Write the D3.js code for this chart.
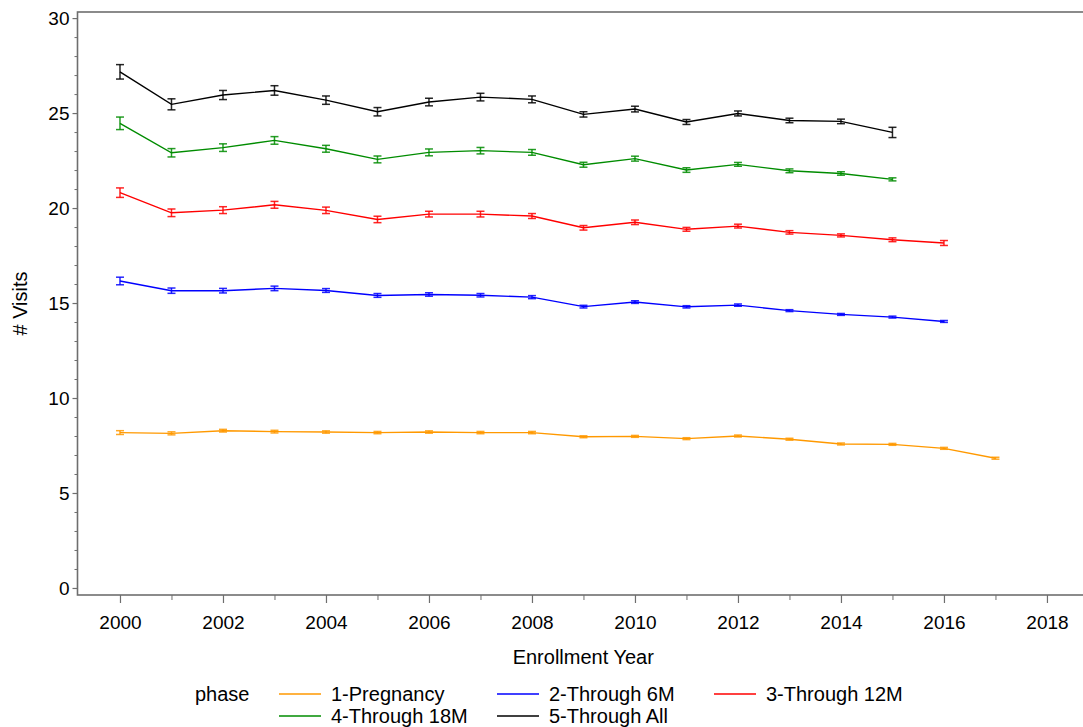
<!DOCTYPE html>
<html>
<head>
<meta charset="utf-8">
<script src="https://cdn.jsdelivr.net/npm/d3@7"></script>
<style>
  html, body { margin: 0; padding: 0; background: #fff; }
  svg { display: block; }
  text { font-family: "Liberation Sans", Arial, sans-serif; fill: #000; }
</style>
</head>
<body>
<svg id="chart" width="1083" height="727"></svg>
<script>
// Enrollment years
const years = [2000, 2001, 2002, 2003, 2004, 2005, 2006, 2007, 2008,
               2009, 2010, 2011, 2012, 2013, 2014, 2015, 2016, 2017];

// Mean number of visits per phase, by enrollment year
const pregnancy = [8.18, 8.14, 8.28, 8.23, 8.21, 8.18, 8.21, 8.18, 8.18,
                   7.96, 7.98, 7.86, 8.00, 7.83, 7.58, 7.56, 7.35, 6.83];
const through6M = [16.16, 15.65, 15.65, 15.77, 15.66, 15.40, 15.45, 15.41, 15.31,
                   14.81, 15.05, 14.80, 14.89, 14.60, 14.40, 14.26, 14.03];
const through12M = [20.81, 19.75, 19.89, 20.17, 19.88, 19.40, 19.68, 19.68, 19.58,
                    18.96, 19.25, 18.88, 19.05, 18.72, 18.56, 18.33, 18.16];
const through18M = [24.46, 22.91, 23.18, 23.56, 23.12, 22.56, 22.93, 23.02, 22.93,
                    22.28, 22.60, 22.00, 22.30, 21.96, 21.82, 21.51];
const throughAll = [27.17, 25.46, 25.95, 26.19, 25.68, 25.07, 25.58, 25.84, 25.72,
                    24.93, 25.21, 24.53, 24.98, 24.61, 24.56, 23.98];

// Half-widths of the error bars
const pregnancyErr = [0.10, 0.08, 0.07, 0.07, 0.06, 0.06, 0.06, 0.06, 0.06,
                      0.05, 0.05, 0.05, 0.05, 0.05, 0.05, 0.05, 0.05, 0.05];
const through6MErr = [0.20, 0.14, 0.12, 0.12, 0.10, 0.10, 0.09, 0.09, 0.08,
                      0.07, 0.07, 0.06, 0.06, 0.05, 0.05, 0.05, 0.05];
const through12MErr = [0.25, 0.20, 0.18, 0.18, 0.17, 0.17, 0.15, 0.15, 0.13,
                       0.12, 0.12, 0.10, 0.10, 0.09, 0.08, 0.10, 0.13];
const through18MErr = [0.33, 0.22, 0.20, 0.20, 0.18, 0.18, 0.18, 0.17, 0.15,
                       0.13, 0.13, 0.12, 0.10, 0.10, 0.09, 0.08];
const throughAllErr = [0.38, 0.29, 0.24, 0.25, 0.22, 0.22, 0.20, 0.20, 0.18,
                       0.14, 0.15, 0.13, 0.13, 0.12, 0.12, 0.27];

const phaseNames = ["1-Pregnancy", "2-Through 6M", "3-Through 12M", "4-Through 18M", "5-Through All"];
const phaseColors = ["#ff9900", "#0000ff", "#ff0000", "#008c00", "#000000"];

const yTicks = [0, 5, 10, 15, 20, 25, 30];
const xTicks = [2000, 2002, 2004, 2006, 2008, 2010, 2012, 2014, 2016, 2018];

const series = [
  { name: phaseNames[0], color: phaseColors[0], values: pregnancy, err: pregnancyErr },
  { name: phaseNames[1], color: phaseColors[1], values: through6M, err: through6MErr },
  { name: phaseNames[2], color: phaseColors[2], values: through12M, err: through12MErr },
  { name: phaseNames[3], color: phaseColors[3], values: through18M, err: through18MErr },
  { name: phaseNames[4], color: phaseColors[4], values: throughAll, err: throughAllErr }
];

const svg = d3.select("#chart");
const plot = { left: 77.5, right: 1083, top: 12, bottom: 595 };

const x = d3.scaleLinear().domain([1999.175, 2018.7]).range([plot.left, plot.right]);
const y = d3.scaleLinear().domain([-0.37, 30.32]).range([plot.bottom, plot.top]);

const axisColor = "#6e6e6e";
const tickFont = 19;
const labelFont = 20;

// Plot frame
svg.append("rect")
  .attr("x", plot.left).attr("y", plot.top)
  .attr("width", plot.right - plot.left + 2).attr("height", plot.bottom - plot.top)
  .attr("fill", "none").attr("stroke", axisColor).attr("stroke-width", 1.6);

// Y axis: major ticks with labels, minor ticks at every unit
const yAxis = d3.axisLeft(y).tickValues(yTicks).tickSize(5).tickPadding(3).tickFormat(d3.format("d"));
const yG = svg.append("g").attr("transform", `translate(${plot.left},0)`).call(yAxis);
yG.select(".domain").remove();
yG.selectAll("line").attr("stroke", axisColor).attr("stroke-width", 1.2);
yG.selectAll("text").style("font-size", tickFont + "px").style("font-family", "Liberation Sans, Arial, sans-serif");

const yMinor = d3.range(0, 31).filter(v => v % 5 !== 0);
const yMinorAxis = d3.axisLeft(y).tickValues(yMinor).tickSize(3).tickFormat("");
const yMG = svg.append("g").attr("transform", `translate(${plot.left},0)`).call(yMinorAxis);
yMG.select(".domain").remove();
yMG.selectAll("line").attr("stroke", axisColor).attr("stroke-width", 1);

// X axis: labelled even years, minor ticks at odd years
const xAxis = d3.axisBottom(x).tickValues(xTicks).tickSize(8).tickPadding(13).tickFormat(d3.format("d"));
const xG = svg.append("g").attr("transform", `translate(0,${plot.bottom})`).call(xAxis);
xG.select(".domain").remove();
xG.selectAll("line").attr("stroke", axisColor).attr("stroke-width", 1.2);
xG.selectAll("text").style("font-size", tickFont + "px").style("font-family", "Liberation Sans, Arial, sans-serif");

const xMinor = d3.range(2001, 2019, 2);
const xMinorAxis = d3.axisBottom(x).tickValues(xMinor).tickSize(5).tickFormat("");
const xMG = svg.append("g").attr("transform", `translate(0,${plot.bottom})`).call(xMinorAxis);
xMG.select(".domain").remove();
xMG.selectAll("line").attr("stroke", axisColor).attr("stroke-width", 1);

// Axis titles
svg.append("text")
  .attr("x", (plot.left + plot.right) / 2 + 3).attr("y", 664)
  .attr("text-anchor", "middle").style("font-size", labelFont + "px")
  .text("Enrollment Year");

svg.append("text")
  .attr("transform", `translate(27,${(plot.top + plot.bottom) / 2}) rotate(-90)`)
  .attr("text-anchor", "middle").style("font-size", labelFont + "px")
  .text("# Visits");

// Lines and error bars
const line = d3.line().x(d => x(d.year)).y(d => y(d.value));
const capHalf = 4;

series.forEach(s => {
  const pts = s.values.map((v, i) => ({ year: years[i], value: v, err: s.err[i] }));
  const g = svg.append("g");

  g.append("path")
    .datum(pts)
    .attr("d", line)
    .attr("fill", "none")
    .attr("stroke", s.color)
    .attr("stroke-width", 1.4);

  const bars = g.selectAll("g.eb").data(pts).join("g").attr("class", "eb")
    .attr("stroke", s.color).attr("stroke-width", 1.5).attr("stroke-opacity", 0.85);

  bars.append("line")
    .attr("x1", d => x(d.year)).attr("x2", d => x(d.year))
    .attr("y1", d => y(d.value - d.err)).attr("y2", d => y(d.value + d.err));
  bars.append("line")
    .attr("x1", d => x(d.year) - capHalf).attr("x2", d => x(d.year) + capHalf)
    .attr("y1", d => y(d.value + d.err)).attr("y2", d => y(d.value + d.err));
  bars.append("line")
    .attr("x1", d => x(d.year) - capHalf).attr("x2", d => x(d.year) + capHalf)
    .attr("y1", d => y(d.value - d.err)).attr("y2", d => y(d.value - d.err));
});

// Legend
const legend = svg.append("g");
legend.append("text").attr("x", 195).attr("y", 701).style("font-size", labelFont + "px").text("phase");

const legendCols = [279, 497, 714];
const legendRows = [694, 716];
series.forEach((s, i) => {
  const col = legendCols[i % 3];
  const row = legendRows[Math.floor(i / 3)];
  legend.append("line")
    .attr("x1", col).attr("x2", col + 42)
    .attr("y1", row).attr("y2", row)
    .attr("stroke", s.color).attr("stroke-width", 1.4);
  legend.append("text")
    .attr("x", col + 52).attr("y", row + 7)
    .style("font-size", labelFont + "px")
    .text(s.name);
});
</script>
</body>
</html>
